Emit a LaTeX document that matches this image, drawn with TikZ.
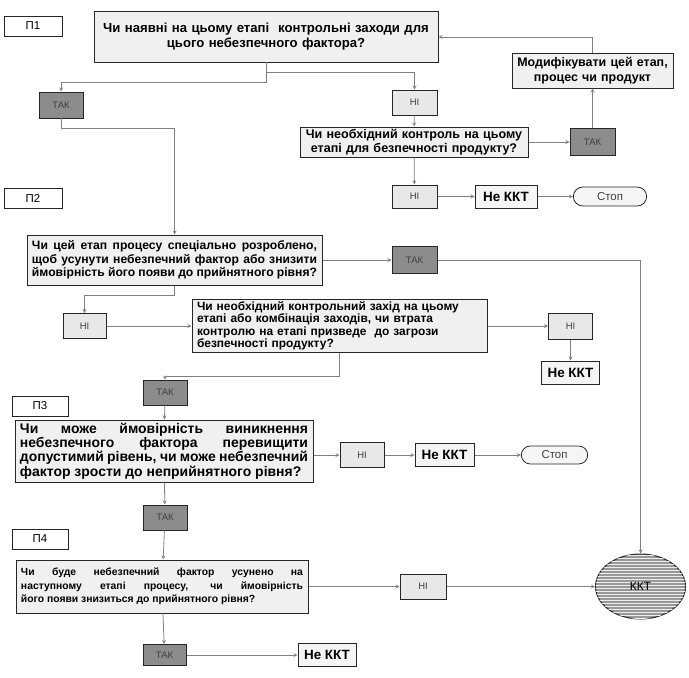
\documentclass[tikz,border=0pt]{standalone}
\usepackage{fontspec}
\setmainfont{Liberation Sans}
\usepackage{xcolor}
\usetikzlibrary{shapes,arrows,positioning,patterns,calc}
\hyphenpenalty=10000
\exhyphenpenalty=10000

\begin{document}
\begin{tikzpicture}[
    x=1bp, y=-1bp,
    stage/.style={rectangle, draw=black!85, line width=0.8pt, fill=white, minimum width=58bp, minimum height=20bp, font=\fontsize{11.5}{13}\selectfont},
    question/.style={rectangle, draw=black!85, line width=1pt, fill=gray!12, inner xsep=5bp, inner ysep=2bp, font=\bfseries},
    yes/.style={rectangle, draw=black!85, line width=1pt, fill=black!45, minimum width=44bp, minimum height=26bp, text=black!75, font=\fontsize{9.5}{11}\selectfont},
    no/.style={rectangle, draw=black!85, line width=1pt, fill=gray!18, minimum width=44bp, minimum height=25bp, text=black!75, font=\fontsize{9.5}{11}\selectfont},
    notccp/.style={rectangle, draw=black!85, line width=1pt, fill=gray!8, minimum width=60bp, minimum height=23bp, inner xsep=2bp, font=\bfseries\fontsize{13.5}{15}\selectfont},
    stopnode/.style={rounded rectangle, draw=black!85, line width=0.8pt, fill=gray!8, minimum width=78bp, minimum height=19bp, text=black!75, font=\fontsize{11.5}{13}\selectfont},
    ccp/.style={ellipse, draw=black!85, line width=1pt, fill=black!40, postaction={pattern=horizontal lines, pattern color=gray!15}, minimum width=90bp, minimum height=65bp, font=\fontsize{12}{14}\selectfont},
    arrow/.style={->, >=stealth, draw=gray, line width=0.8pt},
]
\useasboundingbox (0,0) rectangle (689,678);

% Stage labels
\node[stage] (stage1) at (33,26) {П1};
\node[stage] (stage2) at (33,198) {П2};
\node[stage, minimum width=56bp] (stage3) at (40,406) {П3};
\node[stage, minimum width=56bp] (stage4) at (40,539) {П4};

% Stage 1: existing control measures
\node[question, align=center, text width=334bp, minimum height=50bp, font=\bfseries\fontsize{13.2}{15}\selectfont] (q1) at (266,37)
    {Чи наявні на цьому етапі\ \ контрольні заходи для\\цього небезпечного фактора?};
\node[yes] (yes1) at (61,105) {ТАК};
\node[no, minimum width=45bp] (no1) at (414.5,102.5) {НІ};
\node[question, align=center, inner xsep=3bp, text width=222bp, minimum height=30bp, font=\bfseries\fontsize{12.6}{14}\selectfont] (need1) at (414,142)
    {Чи необхідний контроль на цьому\\етапі для безпечності продукту?};
\node[yes, minimum width=45bp, minimum height=27bp] (yes2) at (592.5,142) {ТАК};
\node[question, align=center, text width=151bp, minimum height=35bp, font=\bfseries\fontsize{12.5}{14.5}\selectfont] (modify) at (592.5,70.5)
    {Модифікувати цей етап,\\процес чи продукт};
\node[no, minimum width=45bp, minimum height=23bp] (no2) at (414.5,196.5) {НІ};
\node[notccp, minimum width=62bp] (notccp1) at (506,196.5) {Не ККТ};
\node[stopnode, minimum width=80bp] (stop1) at (610,196.5) {Стоп};

% Stage 2: process step designed to remove the hazard
\node[question, align=justify, text width=285bp, minimum height=50bp, font=\bfseries\fontsize{12.2}{13.5}\selectfont] (q2) at (174.5,260)
    {Чи цей етап процесу спеціально розроблено,\linebreak щоб усунути небезпечний фактор або знизити\linebreak ймовірність його появи до прийнятного рівня?};
\node[yes, minimum width=45bp, minimum height=27bp] (yes3) at (414.5,260) {ТАК};
\node[no, minimum width=43bp] (no3) at (84.5,326) {НІ};
\node[question, align=left, text width=285bp, minimum height=46bp, font=\bfseries\fontsize{12}{12.5}\selectfont] (need2) at (339.5,326)
    {Чи необхідний контрольний захід на цьому\\етапі або комбінація заходів, чи втрата\\контролю на етапі призведе\ \ до загрози\\безпечності продукту?};
\node[no, minimum height=26bp] (no4) at (570.5,326) {НІ};
\node[notccp, minimum width=58bp] (notccp2) at (570.5,372.5) {Не ККТ};

% Stage 3: hazard may exceed acceptable level
\node[yes, minimum height=25bp] (yes4) at (165,392.5) {ТАК};
\node[question, align=justify, text width=288bp, minimum height=62bp, font=\bfseries\fontsize{14}{14.5}\selectfont] (q3) at (164,451)
    {Чи може ймовірність виникнення\linebreak небезпечного фактора перевищити\linebreak допустимий рівень, чи може небезпечний\linebreak фактор зрости до неприйнятного рівня?};
\node[no, minimum height=25bp] (no5) at (362,455) {НІ};
\node[notccp, minimum width=59bp] (notccp3) at (444.5,455) {Не ККТ};
\node[stopnode, minimum width=73bp, minimum height=18bp] (stop2) at (554.5,455) {Стоп};

% Stage 4: hazard removed at a later step
\node[yes, minimum height=25bp] (yes5) at (165,517.5) {ТАК};
\node[question, align=justify, text width=282bp, minimum height=53bp, font=\bfseries\fontsize{10.4}{13.5}\selectfont] (q4) at (162,586.5)
    {Чи буде небезпечний фактор усунено на\linebreak наступному етапі процесу, чи ймовірність\linebreak його появи знизиться до прийнятного рівня?};
\node[no, minimum width=46bp] (no6) at (423,586.5) {НІ};
\node[ccp] (ccp) at (640.5,586.5) {ККТ};
\node[yes, minimum width=43bp, minimum height=21bp] (yes6) at (164.5,655) {ТАК};
\node[notccp, minimum width=58bp] (notccp4) at (327,655) {Не ККТ};

% Arrows - Stage 1
\draw[arrow] (q1.south) -- ++(0,20) -| (yes1);
\draw[arrow] (q1.south) -- ++(0,10) -| (no1);
\draw[arrow] (no1) -- (need1);
\draw[arrow] (need1) -- (yes2);
\draw[arrow] (yes2) -- (modify);
\draw[arrow] (modify) |- (q1);
\draw[arrow] (need1) -- (no2);
\draw[arrow] (no2) -- (notccp1);
\draw[arrow] (notccp1) -- (stop1);

% Arrows - Stage 2
\draw[arrow] (yes1.south) -- ++(0,10) -| (q2);
\draw[arrow] (q2) -- (yes3);
\draw[arrow] (yes3) -| (ccp);
\draw[arrow] (q2.south) -- ++(0,10) -| (no3);
\draw[arrow] (no3) -- (need2);
\draw[arrow] (need2) -- (no4);
\draw[arrow] (no4) -- (notccp2);
\draw[arrow] (need2.south) -- ++(0,24) -| (yes4);

% Arrows - Stage 3
\draw[arrow] (yes4) -- (q3);
\draw[arrow] (q3.east |- no5) -- (no5);
\draw[arrow] (no5) -- (notccp3);
\draw[arrow] (notccp3) -- (stop2);
\draw[arrow] (q3) -- (yes5);

% Arrows - Stage 4
\draw[arrow] (yes5) -- (q4);
\draw[arrow] (q4) -- (no6);
\draw[arrow] (no6) -- (ccp);
\draw[arrow] (q4) -- (yes6);
\draw[arrow] (yes6) -- (notccp4);

\end{tikzpicture}
\end{document}
